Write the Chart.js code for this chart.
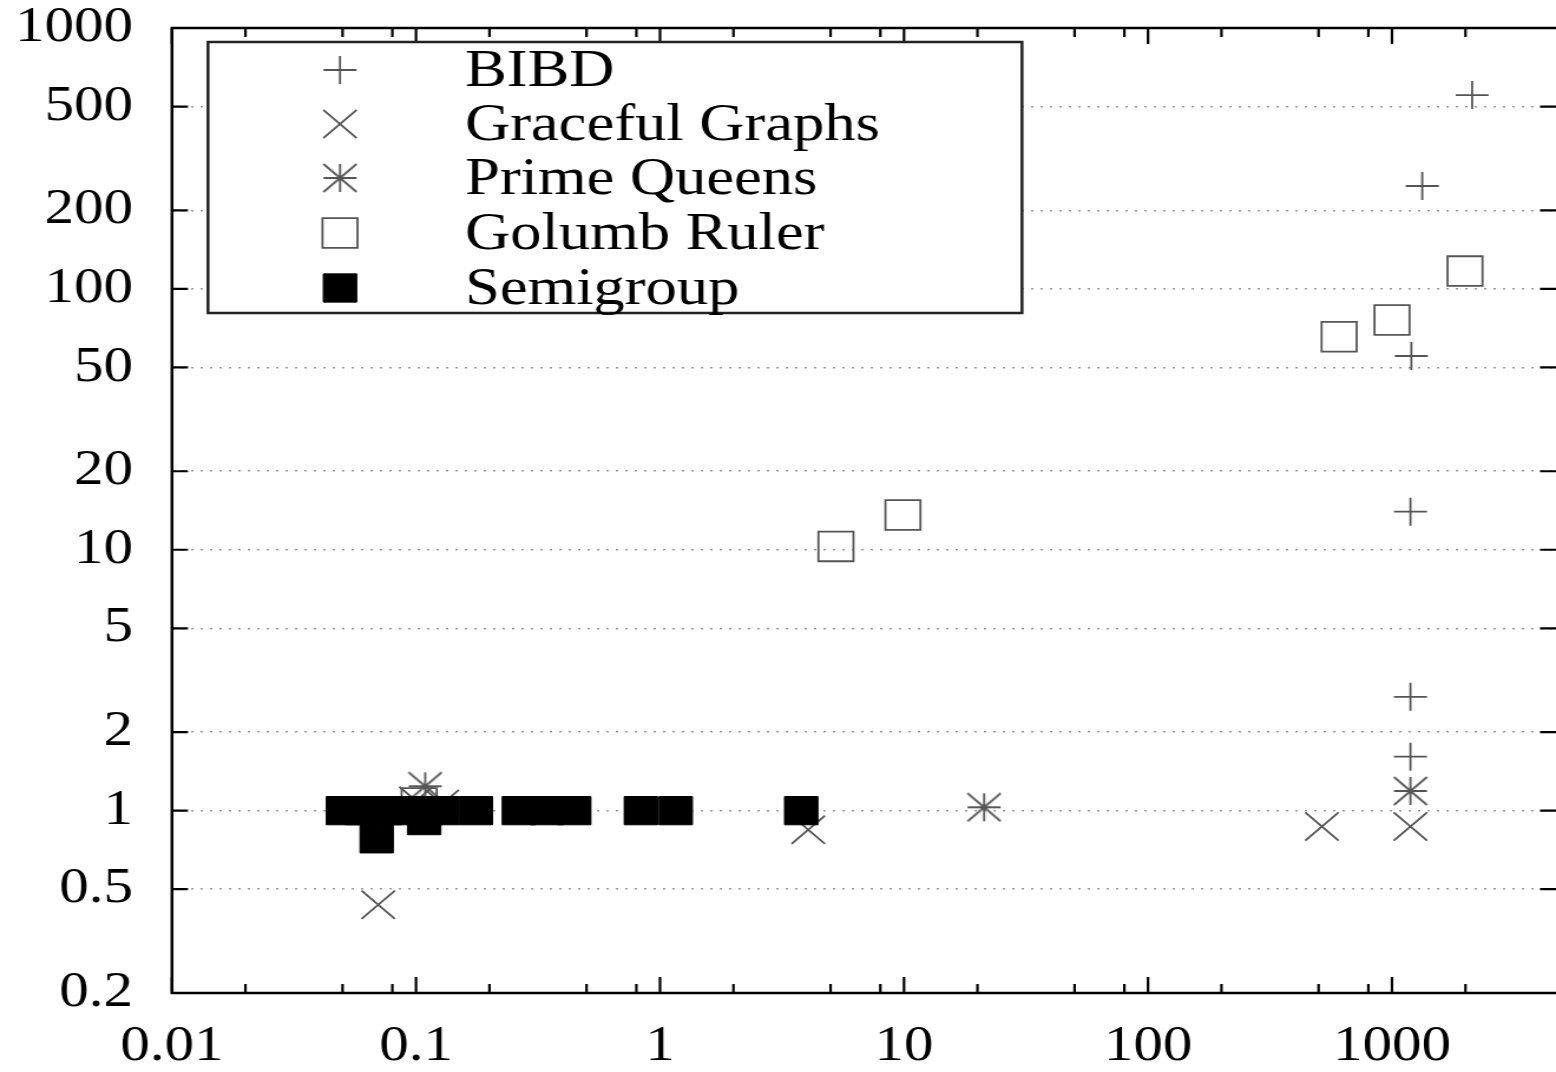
<!DOCTYPE html>
<html>
<head>
<meta charset="utf-8">
<script src="https://cdn.jsdelivr.net/npm/chart.js@4/dist/chart.umd.min.js"></script>
<style>
  html, body { margin: 0; padding: 0; background: #fff; }
</style>
</head>
<body>
<canvas id="chart" width="1319" height="1072" style="display:block;width:1556px;height:1072px"></canvas>
<script>
// Data (time in x, ratio in y, both log)
const bibdX = [2130, 1330, 1200, 1190, 1190, 1190];
const bibdY = [553, 248, 55.3, 14.0, 2.73, 1.61];

const gracefulX = [0.07, 0.1, 0.128, 4.05, 516, 1190];
const gracefulY = [0.436, 1.09, 1.06, 0.845, 0.869, 0.87];

const queensX = [0.109, 21.3, 1190];
const queensY = [1.24, 1.03, 1.19];

const golumbX = [0.103, 5.26, 9.9, 607, 1000, 1991];
const golumbY = [1.07, 10.3, 13.6, 65.5, 76, 117];

const semigroupX = [0.0502, 0.0601, 0.0746, 0.0902, 0.109, 0.128, 0.176, 0.264, 0.344, 0.445, 0.835, 1.16, 3.79, 0.069, 0.108];
const semigroupY = [1, 1, 1, 1, 1, 1, 1, 1, 1, 1, 1, 1, 1, 0.78, 0.916];

const seriesNames = ["BIBD", "Graceful Graphs", "Prime Queens", "Golumb Ruler", "Semigroup"];

// Tick labels
const xTickValues = [0.01, 0.1, 1, 10, 100, 1000];
const xMinorTicks = [0.02, 0.05, 0.08, 0.2, 0.5, 0.8, 2, 5, 8, 20, 50, 80, 200, 500, 800, 2000];
const yTickValues = [0.2, 0.5, 1, 2, 5, 10, 20, 50, 100, 200, 500, 1000];

// canvas is drawn narrow and stretched sideways by css, like the original figure
const STRETCH = 1556 / 1319;
const GRAY = "#555";
const FONT = "'Liberation Serif', 'Times New Roman', serif";

function toPoints(xs, ys) {
  return xs.map((x, i) => ({ x: x, y: ys[i] }));
}

// gnuplot style asterisk: plus and cross to the corners
function makeAsterisk(size, color, lw) {
  const c = document.createElement("canvas");
  c.width = size;
  c.height = size;
  const g = c.getContext("2d");
  const m = size / 2, a = size / 2 - 1;
  g.strokeStyle = color;
  g.lineWidth = lw;
  g.beginPath();
  g.moveTo(m - a, m); g.lineTo(m + a, m);
  g.moveTo(m, m - a); g.lineTo(m, m + a);
  g.moveTo(m - a, m - a); g.lineTo(m + a, m + a);
  g.moveTo(m + a, m - a); g.lineTo(m - a, m + a);
  g.stroke();
  return c;
}
const asterisk = makeAsterisk(30, GRAY, 1.8);

const datasets = [
  { label: seriesNames[0], data: toPoints(bibdX, bibdY), pointStyle: "cross", pointRadius: 14,
    borderColor: GRAY, backgroundColor: GRAY, borderWidth: 1.8, order: 5 },
  { label: seriesNames[1], data: toPoints(gracefulX, gracefulY), pointStyle: "crossRot", pointRadius: 20,
    borderColor: GRAY, backgroundColor: GRAY, borderWidth: 1.8, order: 4 },
  { label: seriesNames[2], data: toPoints(queensX, queensY), pointStyle: asterisk, pointRadius: 15,
    borderColor: GRAY, backgroundColor: GRAY, borderWidth: 1.8, order: 3 },
  { label: seriesNames[3], data: toPoints(golumbX, golumbY), pointStyle: "rect", pointRadius: 21,
    borderColor: GRAY, backgroundColor: "rgba(0,0,0,0)", borderWidth: 1.8, order: 2 },
  { label: seriesNames[4], data: toPoints(semigroupX, semigroupY), pointStyle: "rect", pointRadius: 20,
    borderColor: "#000", backgroundColor: "#000", borderWidth: 1, order: 1 }
];

// frame with inward ticks on all four sides
const framePlugin = {
  id: "frame",
  afterDraw(chart) {
    const ctx = chart.ctx;
    const a = chart.chartArea;
    const xs = chart.scales.x, ys = chart.scales.y;
    ctx.save();
    ctx.strokeStyle = "#000";
    ctx.lineWidth = 2.5;
    ctx.beginPath();
    ctx.moveTo(a.right + 2, a.top); ctx.lineTo(a.left, a.top);
    ctx.lineTo(a.left, a.bottom); ctx.lineTo(a.right + 2, a.bottom);
    ctx.stroke();

    ctx.lineWidth = 2.2;
    ctx.beginPath();
    const tickX = (v, len) => {
      const px = xs.getPixelForValue(v);
      ctx.moveTo(px, a.bottom); ctx.lineTo(px, a.bottom - len);
      ctx.moveTo(px, a.top); ctx.lineTo(px, a.top + len);
    };
    xTickValues.forEach(v => tickX(v, 16));
    xMinorTicks.forEach(v => tickX(v, 9));
    const ylen = 16 / STRETCH;
    yTickValues.forEach(v => {
      const py = ys.getPixelForValue(v);
      ctx.moveTo(a.left, py); ctx.lineTo(a.left + ylen, py);
      ctx.moveTo(a.right, py); ctx.lineTo(a.right - ylen, py);
    });
    ctx.stroke();
    ctx.restore();
  }
};

// boxed legend inside the plot, symbols on the left, names further right
const legendPlugin = {
  id: "boxLegend",
  afterDraw(chart) {
    const ctx = chart.ctx;
    const left = 208 / STRETCH, right = 1022 / STRETCH, top = 42, bottom = 313;
    const symX = 340 / STRETCH, textX = 465 / STRETCH;
    const rowY = [70, 124, 178, 233, 288];
    ctx.save();
    ctx.fillStyle = "#fff";
    ctx.fillRect(left, top, right - left, bottom - top);
    ctx.strokeStyle = "#222";
    ctx.lineWidth = 2.5;
    ctx.strokeRect(left, top, right - left, bottom - top);

    chart.data.datasets.forEach((ds, i) => {
      ctx.save();
      ctx.strokeStyle = ds.borderColor;
      ctx.fillStyle = ds.backgroundColor;
      ctx.lineWidth = ds.borderWidth;
      Chart.helpers.drawPoint(ctx, {
        pointStyle: ds.pointStyle, radius: ds.pointRadius,
        borderWidth: ds.borderWidth, rotation: 0
      }, symX, rowY[i]);
      ctx.restore();
      ctx.fillStyle = "#000";
      ctx.font = "53px " + FONT;
      ctx.textAlign = "left";
      ctx.textBaseline = "middle";
      ctx.fillText(ds.label, textX, rowY[i] + 2);
    });
    ctx.restore();
  }
};

new Chart(document.getElementById("chart"), {
  type: "scatter",
  data: { datasets: datasets },
  options: {
    responsive: false,
    animation: false,
    events: [],
    layout: { autoPadding: false, padding: { top: 28, right: 0, left: 0, bottom: 0 } },
    plugins: { legend: { display: false }, tooltip: { enabled: false } },
    scales: {
      x: {
        type: "logarithmic",
        min: 0.01,
        max: 4700,
        afterBuildTicks: s => { s.ticks = xTickValues.map(v => ({ value: v })); },
        afterFit: s => { s.height = 79; s.paddingLeft = 0; s.paddingRight = 0; },
        grid: { display: false },
        border: { display: false },
        ticks: {
          autoSkip: false, maxRotation: 0, padding: 21, color: "#000",
          font: { family: FONT, size: 50, lineHeight: 1 },
          callback: v => String(v)
        }
      },
      y: {
        type: "logarithmic",
        min: 0.2,
        max: 1000,
        afterBuildTicks: s => { s.ticks = yTickValues.map(v => ({ value: v })); },
        afterFit: s => { s.width = 172 / STRETCH; s.paddingTop = 0; s.paddingBottom = 0; },
        grid: { color: "#999", lineWidth: 1.5, drawTicks: false },
        border: { display: false, dash: [2, 6] },
        ticks: {
          autoSkip: false, padding: 33, color: "#000",
          font: { family: FONT, size: 50, lineHeight: 1 },
          callback: v => String(v)
        }
      }
    }
  },
  plugins: [framePlugin, legendPlugin]
});
</script>
</body>
</html>
